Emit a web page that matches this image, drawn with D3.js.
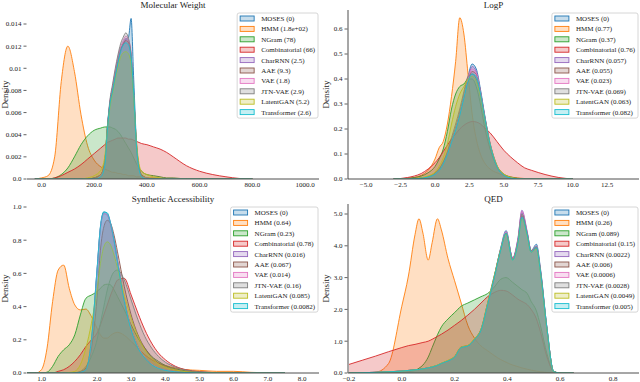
<!DOCTYPE html>
<html>
<head>
<meta charset="utf-8">
<script src="https://cdn.jsdelivr.net/npm/d3@7"></script>
<style>
  body { margin: 0; background: #fff; }
  svg { display: block; }
  text { font-family: "Liberation Serif", "DejaVu Serif", serif; fill: #222; }
</style>
</head>
<body>
<svg id="chart" width="640" height="382"></svg>
<script>
// models in legend / drawing order
const models = ["MOSES", "HMM", "NGram", "Combinatorial", "CharRNN", "AAE", "VAE", "JTN-VAE", "LatentGAN", "Transformer"]
const palette = ["#1f77b4", "#ff7f0e", "#2ca02c", "#d62728", "#9467bd", "#8c564b", "#e377c2", "#7f7f7f", "#bcbd22", "#17becf"]

// distance scores shown in the legends
const mwScores = ["0", "1.8e+02", "78", "66", "2.5", "9.3", "1.8", "2.9", "5.2", "2.6"]
const logpScores = ["0", "0.77", "0.37", "0.76", "0.057", "0.055", "0.023", "0.069", "0.063", "0.082"]
const saScores = ["0", "0.64", "0.23", "0.78", "0.016", "0.067", "0.014", "0.16", "0.085", "0.0082"]
const qedScores = ["0", "0.26", "0.089", "0.15", "0.0022", "0.006", "0.0006", "0.0028", "0.0049", "0.005"]

// tick values
const mwXTicks = [0, 200, 400, 600, 800, 1000]
const mwYTicks = [0, 0.002, 0.004, 0.006, 0.008, 0.01, 0.012, 0.014]
const logpXTicks = [-5, -2.5, 0, 2.5, 5, 7.5, 10, 12.5]
const logpYTicks = [0, 0.1, 0.2, 0.3, 0.4, 0.5, 0.6]
const saXTicks = [1, 2, 3, 4, 5, 6, 7, 8]
const saYTicks = [0, 0.2, 0.4, 0.6, 0.8, 1.0]
const qedXTicks = [-0.2, 0, 0.2, 0.4, 0.6, 0.8]
const qedYTicks = [0, 1, 2, 3, 4, 5]

// ---- Molecular Weight densities (one row per model, same order as models)
const mwGrid = [-25, 0, 25, 50, 75, 100, 125, 150, 175, 200, 225, 240, 250, 260, 270, 280, 290, 300, 310, 320, 330, 340, 350, 360, 370, 380, 400, 425, 450, 475, 500, 550, 600, 650, 700, 750, 800]
const mwDensity = [
  [0,0,0,0,0,0,0,0,0,0.0001,0.0004,0.0015,0.0048,0.0068,0.0080,0.0092,0.0106,0.0118,0.0121,0.0126,0.0128,0.0145,0.0090,0.0035,0.0010,0.0003,0.0001,0,0,0,0,0,0,0,0,0,0],
  [0,0.0001,0.0003,0.0020,0.0088,0.0120,0.0097,0.0058,0.0030,0.0017,0.0011,0.0009,0.0008,0.0007,0.0006,0.0006,0.0005,0.0005,0.0004,0.0004,0.0003,0.0003,0.0003,0.0002,0.0002,0.0002,0.0001,0.0001,0.00005,0,0,0,0,0,0,0,0],
  [0,0,0,0.0001,0.0004,0.0010,0.0020,0.0031,0.0039,0.0044,0.0046,0.0047,0.0047,0.0047,0.0046,0.0045,0.0043,0.0040,0.0036,0.0032,0.0028,0.0024,0.0019,0.0014,0.0010,0.0007,0.0004,0.0003,0.0002,0.0001,0.0001,0,0,0,0,0,0],
  [0,0,0,0.0001,0.0003,0.0006,0.0009,0.0013,0.0018,0.0023,0.0028,0.0031,0.0033,0.0034,0.0035,0.0036,0.0037,0.0037,0.0037,0.0037,0.0036,0.0036,0.0035,0.0034,0.0033,0.0032,0.0031,0.0029,0.0027,0.0024,0.0020,0.0012,0.0007,0.0004,0.0002,0.00005,0],
  [0,0,0,0,0,0,0,0,0,0,0.0003,0.0014,0.0045,0.0070,0.0083,0.0096,0.0108,0.0117,0.0123,0.0127,0.0124,0.0112,0.0075,0.0030,0.0009,0.0003,0.0001,0,0,0,0,0,0,0,0,0,0],
  [0,0,0,0,0,0,0,0,0,0.0001,0.0004,0.0016,0.0046,0.0069,0.0082,0.0095,0.0107,0.0116,0.0122,0.0125,0.0123,0.0111,0.0076,0.0033,0.0011,0.0004,0.0001,0,0,0,0,0,0,0,0,0,0],
  [0,0,0,0,0,0,0,0,0,0,0.0003,0.0013,0.0044,0.0070,0.0084,0.0098,0.0110,0.0119,0.0125,0.0129,0.0126,0.0113,0.0074,0.0029,0.0008,0.0002,0.0001,0,0,0,0,0,0,0,0,0,0],
  [0,0,0,0,0,0,0,0,0,0.0001,0.0004,0.0015,0.0047,0.0072,0.0086,0.0100,0.0112,0.0122,0.0128,0.0132,0.0127,0.0112,0.0074,0.0030,0.0010,0.0003,0.0001,0,0,0,0,0,0,0,0,0,0],
  [0,0,0,0,0,0,0,0,0.0001,0.0003,0.0008,0.0020,0.0045,0.0065,0.0078,0.0090,0.0101,0.0110,0.0114,0.0115,0.0113,0.0104,0.0074,0.0035,0.0014,0.0007,0.0004,0.0002,0.0001,0,0,0,0,0,0,0,0],
  [0,0,0,0,0,0,0,0,0,0,0.0002,0.0012,0.0044,0.0068,0.0080,0.0093,0.0105,0.0115,0.0121,0.0123,0.0121,0.0110,0.0078,0.0032,0.0009,0.0002,0,0,0,0,0,0,0,0,0,0,0]
]

// ---- LogP densities
const logpGrid = [-3, -2.5, -2, -1.5, -1, -0.5, 0, 0.3, 0.6, 0.9, 1.2, 1.5, 1.8, 2.1, 2.4, 2.7, 3.0, 3.3, 3.6, 4, 4.5, 5, 5.5, 6, 6.5, 7, 7.5, 8, 9, 10]
const logpDensity = [
  [0,0,0,0.001,0.003,0.008,0.02,0.035,0.06,0.1,0.15,0.2,0.26,0.33,0.41,0.46,0.44,0.36,0.26,0.14,0.05,0.015,0.004,0.001,0,0,0,0,0,0],
  [0,0,0.002,0.006,0.015,0.035,0.08,0.125,0.15,0.22,0.33,0.47,0.645,0.58,0.42,0.26,0.16,0.1,0.065,0.04,0.025,0.015,0.008,0.004,0.002,0.001,0,0,0,0],
  [0,0.001,0.003,0.006,0.012,0.025,0.05,0.08,0.12,0.19,0.28,0.34,0.37,0.38,0.4,0.4,0.37,0.3,0.21,0.12,0.05,0.02,0.008,0.003,0.001,0,0,0,0,0],
  [0,0.002,0.006,0.012,0.022,0.04,0.065,0.085,0.11,0.135,0.16,0.18,0.2,0.215,0.225,0.23,0.228,0.22,0.205,0.185,0.15,0.115,0.088,0.065,0.045,0.035,0.026,0.018,0.006,0],
  [0,0,0,0.001,0.003,0.008,0.02,0.036,0.062,0.1,0.15,0.2,0.26,0.33,0.4,0.45,0.43,0.35,0.25,0.14,0.05,0.015,0.004,0.001,0,0,0,0,0,0],
  [0,0,0,0.001,0.003,0.009,0.021,0.038,0.064,0.103,0.153,0.203,0.262,0.33,0.395,0.43,0.42,0.35,0.255,0.145,0.055,0.017,0.005,0.001,0,0,0,0,0,0],
  [0,0,0,0.001,0.003,0.008,0.02,0.035,0.061,0.1,0.15,0.2,0.26,0.33,0.4,0.44,0.425,0.35,0.252,0.142,0.052,0.016,0.004,0.001,0,0,0,0,0,0],
  [0,0,0,0.001,0.004,0.01,0.024,0.042,0.07,0.11,0.165,0.22,0.28,0.35,0.41,0.42,0.4,0.33,0.24,0.135,0.05,0.016,0.005,0.001,0,0,0,0,0,0],
  [0,0,0,0.002,0.005,0.012,0.028,0.05,0.085,0.14,0.22,0.29,0.34,0.37,0.4,0.41,0.39,0.33,0.245,0.14,0.055,0.02,0.007,0.002,0,0,0,0,0,0],
  [0,0,0,0.001,0.003,0.008,0.019,0.034,0.06,0.098,0.147,0.196,0.255,0.325,0.39,0.42,0.41,0.345,0.25,0.14,0.05,0.015,0.004,0.001,0,0,0,0,0,0]
]

// ---- Synthetic Accessibility densities
const saGrid = [0.7, 0.8, 0.9, 1.0, 1.1, 1.2, 1.3, 1.4, 1.5, 1.6, 1.7, 1.8, 1.9, 2.0, 2.1, 2.2, 2.3, 2.4, 2.5, 2.6, 2.8, 3.0, 3.2, 3.4, 3.6, 3.8, 4.0, 4.3, 4.6, 5.0, 5.5, 6.0, 6.5, 7.0, 7.5]
const saDensity = [
  [0,0,0,0,0,0,0,0,0,0,0.005,0.02,0.2,0.62,0.88,0.97,0.96,0.9,0.8,0.68,0.44,0.27,0.16,0.095,0.055,0.03,0.018,0.008,0.003,0.001,0,0,0,0,0],
  [0,0,0,0.02,0.15,0.43,0.62,0.65,0.51,0.41,0.38,0.385,0.34,0.27,0.23,0.21,0.21,0.227,0.24,0.245,0.227,0.19,0.15,0.11,0.08,0.06,0.046,0.03,0.02,0.016,0.01,0.01,0.004,0.001,0],
  [0,0,0,0,0.005,0.04,0.1,0.14,0.17,0.23,0.35,0.45,0.47,0.49,0.51,0.53,0.535,0.53,0.5,0.46,0.38,0.29,0.21,0.15,0.1,0.07,0.045,0.025,0.013,0.006,0.002,0,0,0,0],
  [0,0,0,0,0,0,0.01,0.02,0.04,0.07,0.11,0.16,0.2,0.24,0.29,0.35,0.41,0.47,0.52,0.56,0.57,0.47,0.36,0.26,0.18,0.12,0.08,0.04,0.02,0.008,0.002,0,0,0,0],
  [0,0,0,0,0,0,0,0,0,0,0.005,0.02,0.19,0.6,0.87,0.96,0.95,0.89,0.79,0.67,0.44,0.27,0.16,0.095,0.055,0.03,0.018,0.008,0.003,0.001,0,0,0,0,0],
  [0,0,0,0,0,0,0,0,0,0,0.008,0.03,0.15,0.45,0.74,0.88,0.92,0.9,0.83,0.73,0.52,0.35,0.23,0.15,0.095,0.06,0.038,0.018,0.008,0.003,0.001,0,0,0,0],
  [0,0,0,0,0,0,0,0,0,0,0.005,0.02,0.19,0.61,0.87,0.96,0.955,0.9,0.8,0.68,0.44,0.27,0.16,0.095,0.055,0.03,0.018,0.008,0.003,0.001,0,0,0,0,0],
  [0,0,0,0,0,0,0,0,0,0.002,0.01,0.04,0.1,0.2,0.3,0.4,0.5,0.57,0.61,0.62,0.56,0.44,0.32,0.22,0.15,0.1,0.065,0.035,0.018,0.007,0.002,0,0,0,0],
  [0,0,0,0,0,0,0,0,0.003,0.01,0.05,0.15,0.3,0.5,0.66,0.76,0.79,0.77,0.71,0.63,0.47,0.33,0.22,0.14,0.09,0.055,0.035,0.018,0.008,0.003,0.001,0,0,0,0],
  [0,0,0,0,0,0,0,0,0,0,0.004,0.02,0.2,0.62,0.88,0.97,0.965,0.9,0.8,0.67,0.43,0.26,0.15,0.09,0.05,0.028,0.016,0.007,0.003,0.001,0,0,0,0,0]
]

// ---- QED densities
const qedGrid = [-0.2, -0.15, -0.1, -0.05, 0, 0.025, 0.05, 0.065, 0.08, 0.1, 0.115, 0.135, 0.15, 0.175, 0.2, 0.225, 0.25, 0.275, 0.3, 0.325, 0.35, 0.375, 0.395, 0.42, 0.44, 0.455, 0.475, 0.49, 0.51, 0.525, 0.55, 0.575, 0.6, 0.65]
const qedDensity = [
  [0,0.01,0.02,0.04,0.06,0.08,0.1,0.11,0.13,0.16,0.19,0.24,0.3,0.38,0.5,0.8,0.85,1.05,1.35,2.15,3.0,3.95,4.48,3.6,4.2,5.05,4.4,3.85,4.05,3.3,1.4,0.05,0,0],
  [0,0,0.02,0.3,2.1,3.05,4.35,4.85,4.4,3.55,4.1,4.85,4.5,3.6,2.9,2.2,1.5,1.1,0.85,0.7,0.55,0.42,0.34,0.25,0.2,0.16,0.12,0.09,0.06,0.04,0.015,0,0,0],
  [0,0,0,0.005,0.02,0.04,0.08,0.15,0.25,0.5,0.8,1.2,1.45,1.7,1.9,2.1,2.2,2.3,2.4,2.5,2.7,2.95,3.0,2.85,2.72,2.62,2.5,2.25,1.95,1.5,0.6,0.05,0,0],
  [0.27,0.4,0.53,0.67,0.8,0.86,0.9,0.93,0.96,1.0,1.06,1.15,1.22,1.35,1.5,1.65,1.82,2.0,2.2,2.4,2.53,2.6,2.58,2.45,2.32,2.25,2.15,2.0,1.7,1.3,0.5,0.05,0,0],
  [0,0.01,0.02,0.04,0.06,0.08,0.1,0.11,0.13,0.16,0.19,0.24,0.3,0.38,0.5,0.8,0.86,1.05,1.35,2.15,3.0,3.9,4.42,3.62,4.25,5.12,4.45,3.85,3.95,3.2,1.35,0.05,0,0],
  [0,0.01,0.02,0.04,0.06,0.08,0.1,0.11,0.13,0.16,0.19,0.24,0.3,0.39,0.52,0.82,0.86,1.07,1.38,2.2,3.05,3.9,4.4,3.6,4.15,4.95,4.35,3.8,3.95,3.2,1.35,0.05,0,0],
  [0,0.01,0.02,0.04,0.06,0.08,0.1,0.11,0.13,0.16,0.19,0.24,0.3,0.38,0.5,0.8,0.85,1.05,1.35,2.15,3.0,3.92,4.45,3.6,4.2,5.08,4.42,3.85,4.0,3.25,1.4,0.05,0,0],
  [0,0.01,0.02,0.04,0.06,0.08,0.1,0.11,0.13,0.16,0.19,0.24,0.3,0.38,0.5,0.8,0.85,1.05,1.35,2.15,3.0,3.9,4.4,3.58,4.15,5.0,4.4,3.85,3.98,3.25,1.4,0.05,0,0],
  [0,0.01,0.02,0.04,0.06,0.08,0.1,0.11,0.13,0.16,0.2,0.25,0.31,0.4,0.52,0.82,0.87,1.08,1.38,2.2,3.05,3.9,4.38,3.55,4.1,4.85,4.3,3.8,3.9,3.15,1.35,0.05,0,0],
  [0,0.01,0.02,0.04,0.06,0.08,0.1,0.11,0.13,0.16,0.19,0.24,0.3,0.38,0.5,0.8,0.85,1.05,1.35,2.15,3.0,3.88,4.4,3.55,4.1,4.9,4.35,3.8,3.95,3.2,1.4,0.05,0,0]
]

const fmt1 = d3.format(".1f")
const minusFmt = d => fmt1(d).replace("-", "\u2212")

// layout of the 4 panels (pixel boxes and scale anchors)
const panels = [
  {title: "Molecular Weight", grid: mwGrid, dens: mwDensity, scores: mwScores,
   left: 27, right: 319, top: 10, bottom: 179, leftSpine: false,
   xDom: [0, 1000], xRng: [41.5, 305], yDom: [0, 0.014], yRng: [179, 24],
   xTicks: mwXTicks, yTicks: mwYTicks, xFmt: fmt1, yFmt: d => d === 0 ? "0.0" : String(d)},
  {title: "LogP", grid: logpGrid, dens: logpDensity, scores: logpScores,
   left: 348, right: 639, top: 10, bottom: 179, leftSpine: true,
   xDom: [0, 12.5], xRng: [435, 607], yDom: [0, 0.6], yRng: [179, 29],
   xTicks: logpXTicks, yTicks: logpYTicks, xFmt: minusFmt, yFmt: fmt1},
  {title: "Synthetic Accessibility", grid: saGrid, dens: saDensity, scores: saScores,
   left: 27, right: 319, top: 204, bottom: 373, leftSpine: false,
   xDom: [1, 2, 8], xRng: [41.5, 97, 302], yDom: [0, 1], yRng: [373, 207],
   xTicks: saXTicks, yTicks: saYTicks, xFmt: fmt1, yFmt: fmt1},
  {title: "QED", grid: qedGrid, dens: qedDensity, scores: qedScores,
   left: 348, right: 639, top: 204, bottom: 373, leftSpine: true,
   xDom: [-0.2, 0.8], xRng: [349, 613], yDom: [0, 5], yRng: [373, 214],
   xTicks: qedXTicks, yTicks: qedYTicks, xFmt: minusFmt, yFmt: fmt1}
]

const svg = d3.select("#chart")
const axisColor = "#3a3a3a"

panels.forEach((p, pi) => {
  let x = d3.scaleLinear().domain(p.xDom).range(p.xRng)
  let y = d3.scaleLinear().domain(p.yDom).range(p.yRng)

  let g = svg.append("g")

  let clipId = "clip" + pi
  svg.append("clipPath").attr("id", clipId)
    .append("rect")
    .attr("x", p.left).attr("y", p.top - 2)
    .attr("width", p.right - p.left).attr("height", p.bottom - p.top + 2)

  let plot = g.append("g").attr("clip-path", `url(#${clipId})`)

  let area = d3.area()
    .x(d => x(d[0]))
    .y0(y(0))
    .y1(d => y(d[1]))
    .curve(d3.curveMonotoneX)
  let line = d3.line()
    .x(d => x(d[0]))
    .y(d => y(d[1]))
    .curve(d3.curveMonotoneX)

  models.forEach((m, i) => {
    let pts = d3.zip(p.grid, p.dens[i])
    plot.append("path")
      .attr("d", area(pts))
      .attr("fill", palette[i])
      .attr("fill-opacity", 0.25)
    plot.append("path")
      .attr("d", line(pts))
      .attr("fill", "none")
      .attr("stroke", palette[i])
      .attr("stroke-width", 0.9)
  })

  // spines
  g.append("line")
    .attr("x1", p.left).attr("x2", p.right)
    .attr("y1", p.bottom).attr("y2", p.bottom)
    .attr("stroke", axisColor).attr("stroke-width", 0.9)
  if (p.leftSpine) {
    g.append("line")
      .attr("x1", p.left).attr("x2", p.left)
      .attr("y1", p.top).attr("y2", p.bottom)
      .attr("stroke", axisColor).attr("stroke-width", 0.9)
  }

  // y ticks
  let yt = g.selectAll(".ytick").data(p.yTicks).join("g")
    .attr("transform", d => `translate(0, ${y(d)})`)
  yt.append("line")
    .attr("x1", p.left - 3.5).attr("x2", p.left - 0.5)
    .attr("stroke", axisColor).attr("stroke-width", 0.8)
  yt.append("text")
    .attr("x", p.left - 5.5)
    .attr("dy", "0.35em")
    .attr("text-anchor", "end")
    .attr("font-size", 7)
    .text(p.yFmt)

  // x tick labels
  g.selectAll(".xtick").data(p.xTicks).join("text")
    .attr("x", d => x(d))
    .attr("y", p.bottom + 8)
    .attr("text-anchor", "middle")
    .attr("font-size", 7)
    .text(p.xFmt)

  // title
  g.append("text")
    .attr("x", (p.left + p.right) / 2)
    .attr("y", p.top - 2.5)
    .attr("text-anchor", "middle")
    .attr("font-size", 9)
    .text(p.title)

  // y label
  g.append("text")
    .attr("transform", `translate(${p.left - 19}, ${(p.top + p.bottom) / 2}) rotate(-90)`)
    .attr("text-anchor", "middle")
    .attr("font-size", 9)
    .text("Density")

  // legend
  let leg = g.append("g")
  let rowH = 10.4
  let boxTop = p.top + 3
  let bg = leg.append("rect")
  let rows = leg.selectAll(".row").data(models).join("g")
    .attr("transform", (d, i) => `translate(0, ${boxTop + 5.5 + i * rowH})`)
  let labels = rows.append("text")
    .attr("dy", "0.35em")
    .attr("font-size", 7)
    .text((d, i) => `${d} (${p.scores[i]})`)
  let maxW = d3.max(labels.nodes(), n => n.getComputedTextLength())
  let boxW = maxW + 27
  let boxLeft = p.right - 1 - boxW
  labels.attr("x", boxLeft + 24)
  rows.append("rect")
    .attr("x", boxLeft + 3).attr("y", -2.5)
    .attr("width", 14).attr("height", 5)
    .attr("fill", (d, i) => palette[i]).attr("fill-opacity", 0.25)
    .attr("stroke", (d, i) => palette[i]).attr("stroke-width", 0.9)
  bg.attr("x", boxLeft).attr("y", boxTop)
    .attr("width", boxW).attr("height", rowH * 9 + 11.5)
    .attr("rx", 2)
    .attr("fill", "#fff").attr("fill-opacity", 0.8)
    .attr("stroke", "#cccccc").attr("stroke-width", 0.8)
})
</script>
</body>
</html>
